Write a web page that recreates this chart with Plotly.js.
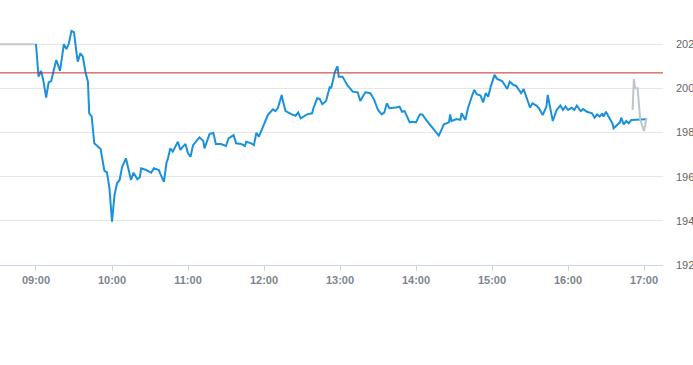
<!DOCTYPE html>
<html>
<head>
<meta charset="utf-8">
<script src="https://cdn.plot.ly/plotly-3.0.1.min.js"></script>
<style>html,body{margin:0;padding:0;background:#fff;}#chart{width:693px;height:365px;}</style>
</head>
<body>
<div id="chart"></div>
<script>
const day = "2024-01-02 ";
const preTimes = ["08:31:35", "09:00"];
const preValues = [202.0, 202.0];

const mainTimes = [
"09:00","09:02","09:04","09:06","09:08","09:10","09:12","09:16","09:19","09:22",
"09:24","09:26","09:28","09:30","09:32","09:33","09:35","09:37","09:39","09:41",
"09:42","09:44","09:46","09:48","09:51","09:54","09:56","09:58","10:00","10:02",
"10:04","10:06","10:08","10:11","10:15","10:17","10:20","10:22","10:23","10:27",
"10:31","10:33","10:37","10:38","10:41","10:43","10:44","10:46","10:48","10:52",
"10:54","10:56","10:58","11:00","11:02","11:04","11:07","11:09","11:12","11:13",
"11:17","11:20","11:22","11:26","11:30","11:32","11:36","11:38","11:42","11:45",
"11:46","11:50","11:52","11:54","11:56","11:57","12:01","12:03","12:07","12:09",
"12:11","12:14","12:15","12:17","12:22","12:25","12:27","12:29","12:34","12:38",
"12:39","12:42","12:44","12:46","12:49","12:52","12:53","12:56","12:58","12:59",
"13:02","13:06","13:08","13:10","13:14","13:16","13:20","13:24","13:27","13:30",
"13:33","13:35","13:37","13:39","13:44","13:47","13:49","13:51","13:53","13:55",
"13:57","14:00","14:03","14:05","14:08","14:11","14:15","14:18","14:20","14:22",
"14:26","14:27","14:28","14:32","14:35","14:36","14:39","14:41","14:44","14:46",
"14:48","14:51","14:53","14:55","14:57","14:59","15:02","15:04","15:08","15:09",
"15:12","15:14","15:17","15:19","15:21","15:23","15:25","15:27","15:30","15:32",
"15:35","15:37","15:40","15:43","15:44","15:46","15:48","15:51","15:54","15:56",
"15:58","16:00","16:03","16:05","16:07","16:10","16:12","16:15","16:19","16:21",
"16:23","16:25","16:27","16:28","16:30","16:32","16:35","16:36","16:39","16:41",
"16:42","16:44","16:46","16:48","16:50","16:54","17:02"
];
const mainValues = [
202.00,200.53,200.79,200.30,199.58,200.27,200.33,201.28,200.79,202.00,
201.78,202.04,202.60,202.54,201.59,201.21,201.59,201.43,200.75,200.30,
198.87,198.72,197.51,197.40,197.25,196.26,196.20,195.47,193.96,195.17,
195.70,195.85,196.45,196.83,195.85,196.18,195.88,195.97,196.38,196.30,
196.18,196.38,196.30,196.15,195.77,196.63,196.78,197.28,197.13,197.58,
197.21,197.36,197.48,197.06,196.90,197.43,197.66,197.78,197.63,197.28,
197.93,197.99,197.48,197.48,197.39,197.73,197.88,197.51,197.48,197.39,
197.58,197.51,197.43,197.99,197.81,197.96,198.49,198.79,199.05,198.97,
199.12,199.70,199.40,198.97,198.82,198.76,198.91,198.64,198.82,198.87,
199.10,199.55,199.52,199.28,199.43,200.08,200.00,200.75,201.00,200.53,
200.53,200.12,200.00,199.85,199.82,199.43,199.82,199.78,199.48,199.02,
198.82,198.91,199.32,199.10,199.13,199.17,198.94,198.97,198.72,198.46,
198.49,198.46,198.82,198.82,198.57,198.37,198.11,197.86,198.11,198.37,
198.46,198.82,198.52,198.61,198.57,198.87,198.57,199.10,199.62,199.93,
199.73,199.67,199.36,199.78,199.62,200.08,200.61,200.43,200.33,200.23,
199.97,200.30,200.15,200.12,199.97,199.78,199.97,199.67,199.13,199.32,
199.22,199.10,198.79,199.18,199.70,199.10,198.52,199.02,199.22,199.02,
199.18,199.02,199.12,199.02,199.22,198.97,199.06,198.94,198.87,198.67,
198.82,198.72,198.87,198.72,198.94,198.72,198.42,198.19,198.34,198.46,
198.67,198.37,198.52,198.42,198.57,198.57,198.60
];

const postTimes = ["16:51","16:52","16:53","16:55","16:57","16:59","17:00","17:02"];
const postValues = [199.02,200.42,200.00,200.00,198.57,198.26,198.07,198.64];

const refLevel = 200.70;
const tickTimes = ["09:00","10:00","11:00","12:00","13:00","14:00","15:00","16:00","17:00"];
const tickLabels = ["09:00","10:00","11:00","12:00","13:00","14:00","15:00","16:00","17:00"];
const yTicks = [192, 194, 196, 198, 200, 202];

const toDate = t => day + t;

const traces = [
  {x: preTimes.map(toDate), y: preValues, type: "scatter", mode: "lines",
   line: {color: "#c3c9cd", width: 2}, hoverinfo: "skip"},
  {x: mainTimes.map(toDate), y: mainValues, type: "scatter", mode: "lines",
   line: {color: "#1b91dd", width: 2}, hoverinfo: "skip"},
  {x: postTimes.map(toDate), y: postValues, type: "scatter", mode: "lines",
   line: {color: "#bcc6cc", width: 2}, hoverinfo: "skip"}
];

const layout = {
  width: 693, height: 365,
  margin: {l: 0, r: 30, t: 0, b: 100, pad: 0},
  paper_bgcolor: "#ffffff", plot_bgcolor: "#ffffff",
  showlegend: false,
  font: {family: "Liberation Sans, Arial, sans-serif", size: 11, color: "#666666"},
  xaxis: {
    type: "date",
    range: [toDate("08:31:35"), toDate("17:15")],
    tickvals: tickTimes.map(toDate), ticktext: tickLabels,
    showgrid: false, zeroline: false,
    showline: true, linecolor: "#ccd6eb", linewidth: 1,
    ticks: "outside", ticklen: 5, tickcolor: "#ccd6eb",
    tickfont: {size: 11, color: "#7d8590", family: "Liberation Sans, Arial, sans-serif", weight: "bold"},
    fixedrange: true
  },
  yaxis: {
    side: "right",
    range: [192, 204],
    tickvals: yTicks,
    showgrid: true, gridcolor: "#e6e6e6", gridwidth: 1,
    zeroline: false, showline: false, ticks: "",
    ticklabelstandoff: 12,
    tickfont: {size: 11, color: "#666666"},
    fixedrange: true
  },
  shapes: [{
    type: "line", xref: "paper", x0: 0, x1: 1, yref: "y", y0: refLevel, y1: refLevel,
    line: {color: "#cc2b2b", width: 1}
  }]
};

Plotly.newPlot("chart", traces, layout, {displayModeBar: false, staticPlot: true});
</script>
</body>
</html>
